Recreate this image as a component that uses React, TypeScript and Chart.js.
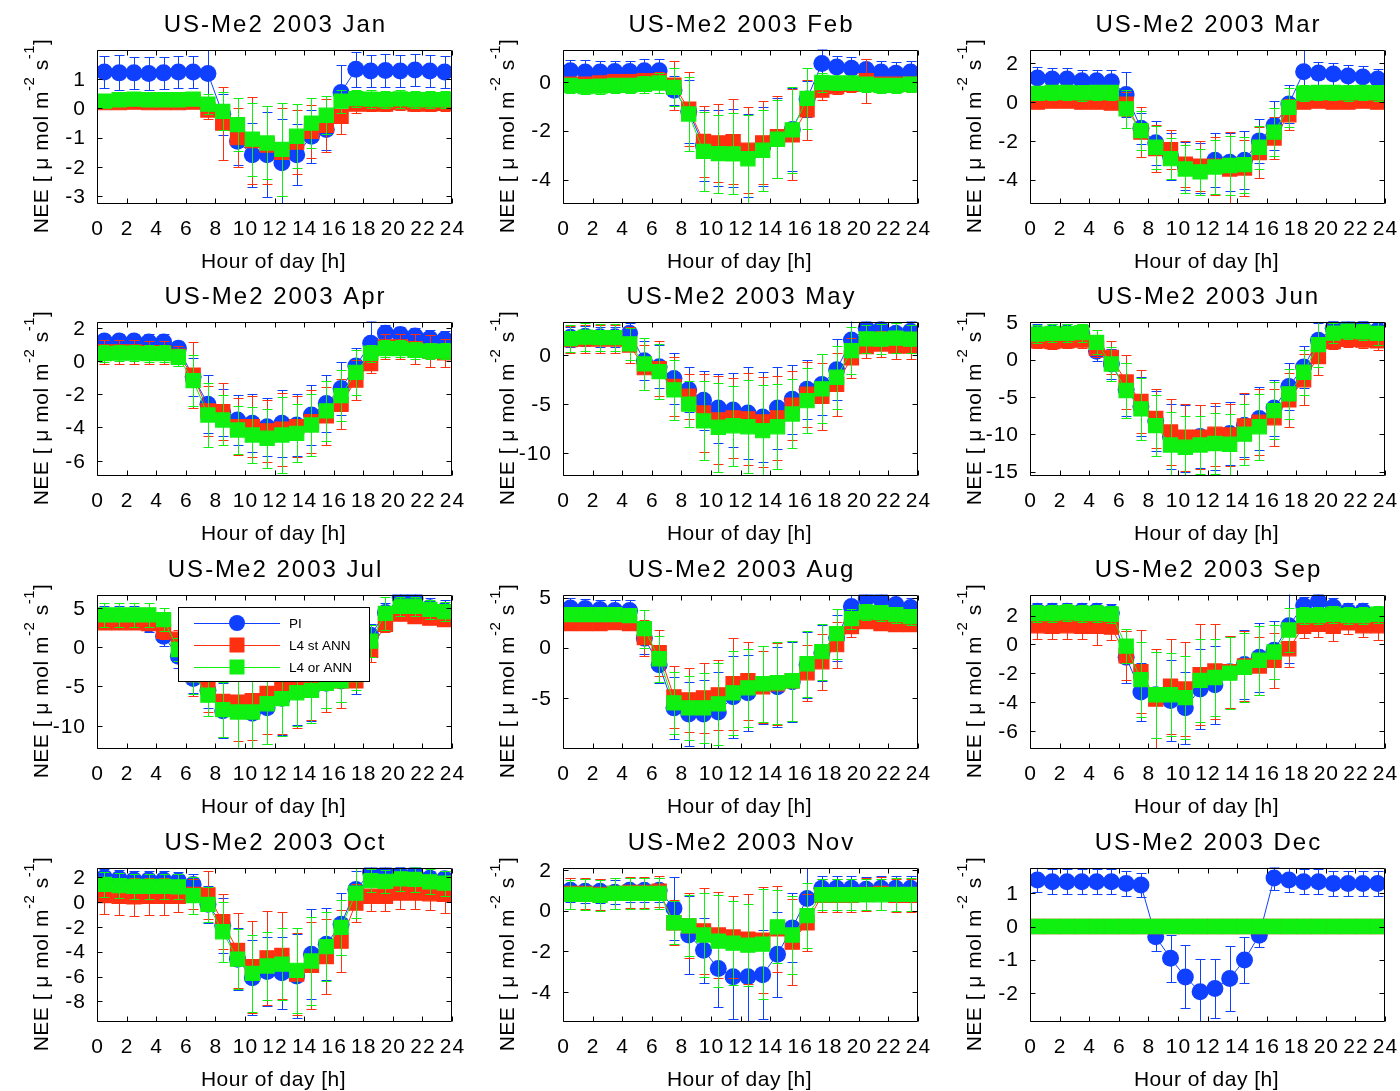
import React, { useEffect, useRef } from "react";
import { Chart, registerables } from "chart.js";

Chart.register(...registerables);

// ---------------- data ----------------
const HOURS = [0.5, 1.5, 2.5, 3.5, 4.5, 5.5, 6.5, 7.5, 8.5, 9.5, 10.5, 11.5, 12.5, 13.5, 14.5, 15.5, 16.5, 17.5, 18.5, 19.5, 20.5, 21.5, 22.5, 23.5];
const X_TICKS = [0, 2, 4, 6, 8, 10, 12, 14, 16, 18, 20, 22, 24];
const MONTHS = ["Jan", "Feb", "Mar", "Apr", "May", "Jun", "Jul", "Aug", "Sep", "Oct", "Nov", "Dec"];
const SERIES_LABELS = ["PI", "L4 st ANN", "L4 or ANN"];

const JAN_PI = [1.25, 1.22, 1.22, 1.2, 1.22, 1.25, 1.25, 1.2, -0.2, -1.12, -1.58, -1.58, -1.86, -1.58, -0.95, -0.72, 0.55, 1.34, 1.28, 1.3, 1.28, 1.32, 1.28, 1.25];
const JAN_PI_ERR = [0.55, 0.6, 0.55, 0.55, 0.55, 0.55, 0.55, 0.8, 0.7, 0.8, 1.1, 1.45, 1.5, 1.05, 0.9, 0.7, 0.95, 0.6, 0.55, 0.55, 0.55, 0.55, 0.55, 0.55];
const JAN_ST = [0.2, 0.2, 0.22, 0.2, 0.2, 0.2, 0.22, -0.05, -0.5, -1.0, -1.1, -1.25, -1.5, -1.15, -0.78, -0.58, -0.27, 0.15, 0.15, 0.15, 0.2, 0.15, 0.15, 0.18];
const JAN_ST_ERR = [0.2, 0.2, 0.2, 0.2, 0.2, 0.2, 0.2, 0.3, 1.25, 1.0, 1.5, 1.35, 1.5, 1.1, 0.9, 0.9, 0.6, 0.3, 0.25, 0.25, 0.25, 0.25, 0.25, 0.25];
const JAN_OR = [0.25, 0.3, 0.32, 0.3, 0.3, 0.3, 0.32, 0.15, -0.1, -0.55, -1.05, -1.18, -1.4, -0.95, -0.5, -0.23, 0.25, 0.34, 0.32, 0.3, 0.33, 0.3, 0.3, 0.3];
const JAN_OR_ERR = [0.2, 0.2, 0.2, 0.2, 0.2, 0.2, 0.2, 0.35, 0.65, 0.9, 1.25, 1.25, 1.6, 1.1, 0.85, 0.65, 0.4, 0.3, 0.3, 0.3, 0.3, 0.3, 0.3, 0.3];

const FEB_PI = [0.45, 0.4, 0.4, 0.42, 0.42, 0.45, 0.45, -0.35, -1.22, -2.6, -2.7, -2.7, -3.0, -2.65, -2.3, -1.95, -0.7, 0.75, 0.6, 0.55, 0.5, 0.4, 0.35, 0.4];
const FEB_PI_ERR = [0.45, 0.5, 0.45, 0.45, 0.45, 0.5, 0.5, 0.6, 1.3, 1.45, 1.55, 1.6, 1.7, 1.6, 1.65, 1.7, 0.75, 0.6, 0.45, 0.45, 0.45, 0.45, 0.45, 0.45];
const FEB_ST = [-0.1, -0.1, -0.05, 0, 0, 0.05, 0.05, -0.14, -1.12, -2.44, -2.5, -2.45, -2.8, -2.5, -2.25, -2.17, -1.15, -0.34, -0.2, -0.1, 0.05, -0.1, -0.1, -0.1];
const FEB_ST_ERR = [0.3, 0.3, 0.3, 0.3, 0.3, 0.3, 0.35, 1.0, 1.5, 1.45, 1.6, 1.75, 1.75, 1.7, 1.68, 1.86, 1.22, 0.4, 0.3, 0.3, 0.9, 0.3, 0.3, 0.3];
const FEB_OR = [-0.15, -0.2, -0.18, -0.15, -0.15, -0.1, -0.05, -0.23, -1.32, -2.85, -2.94, -2.95, -3.15, -2.8, -2.35, -1.97, -0.68, -0.03, -0.05, -0.05, -0.1, -0.15, -0.15, -0.1];
const FEB_OR_ERR = [0.3, 0.3, 0.3, 0.3, 0.3, 0.35, 0.4, 0.78, 1.5, 1.6, 1.6, 1.66, 1.8, 1.66, 1.6, 1.75, 1.25, 0.4, 0.3, 0.3, 0.3, 0.3, 0.3, 0.3];

const MAR_PI = [1.25, 1.2, 1.2, 1.1, 1.1, 1.05, 0.4, -1.35, -2.1, -2.8, -3.3, -3.4, -3.0, -3.1, -3.0, -2.0, -1.2, -0.1, 1.57, 1.5, 1.45, 1.35, 1.3, 1.2];
const MAR_PI_ERR = [0.55, 0.55, 0.55, 0.55, 0.55, 0.6, 1.15, 0.8, 1.15, 1.2, 1.25, 1.3, 1.4, 1.5, 1.5, 1.15, 1.25, 1.0, 1.1, 0.6, 0.55, 0.55, 0.55, 0.5];
const MAR_ST = [0, 0.05, 0.05, 0, 0, -0.05, -0.1, -1.55, -2.4, -2.46, -3.2, -3.3, -3.3, -3.45, -3.4, -2.6, -1.85, -0.65, 0, 0.05, 0, 0, 0.05, 0];
const MAR_ST_ERR = [0.2, 0.2, 0.2, 0.2, 0.2, 0.2, 0.6, 1.3, 1.2, 1.0, 1.2, 1.3, 1.5, 1.9, 1.45, 1.3, 1.1, 0.8, 0.2, 0.2, 0.2, 0.2, 0.2, 0.2];
const MAR_OR = [0.45, 0.5, 0.5, 0.48, 0.5, 0.5, -0.35, -1.47, -2.33, -2.92, -3.45, -3.6, -3.35, -3.27, -3.23, -2.33, -1.55, -0.27, 0.47, 0.5, 0.5, 0.48, 0.5, 0.48];
const MAR_OR_ERR = [0.35, 0.4, 0.4, 0.4, 0.4, 0.4, 1.0, 1.0, 1.1, 1.05, 1.25, 1.2, 1.4, 1.5, 1.45, 1.1, 1.25, 1.0, 0.4, 0.4, 0.4, 0.4, 0.4, 0.4];

const APR_PI = [1.2, 1.2, 1.2, 1.15, 1.15, 0.77, -0.95, -2.6, -3.1, -3.55, -3.75, -3.95, -3.75, -3.85, -3.25, -2.55, -1.65, -0.3, 1.07, 1.68, 1.6, 1.5, 1.35, 1.3];
const APR_PI_ERR = [0.45, 0.45, 0.45, 0.45, 0.45, 0.45, 1.15, 1.75, 1.4, 1.5, 1.75, 1.75, 2.0, 1.85, 1.8, 1.7, 1.6, 1.1, 1.35, 0.5, 0.45, 0.5, 0.5, 0.5];
const APR_ST = [0.55, 0.55, 0.55, 0.5, 0.5, 0.3, -0.85, -3.0, -3.05, -3.95, -3.95, -4.2, -4.1, -3.95, -3.65, -3.3, -2.6, -1.15, -0.15, 0.85, 0.85, 0.75, 0.6, 0.5];
const APR_ST_ERR = [0.7, 0.7, 0.7, 0.7, 0.7, 0.6, 2.0, 1.5, 1.7, 1.7, 1.85, 1.85, 2.2, 1.85, 1.9, 1.75, 1.5, 1.2, 0.6, 0.75, 0.75, 0.9, 0.95, 0.85];
const APR_OR = [0.45, 0.48, 0.48, 0.45, 0.45, 0.23, -1.18, -3.25, -3.55, -4.15, -4.45, -4.65, -4.45, -4.35, -3.85, -3.0, -2.08, -0.68, 0.47, 0.75, 0.75, 0.65, 0.6, 0.6];
const APR_OR_ERR = [0.5, 0.5, 0.5, 0.5, 0.5, 0.5, 1.55, 1.9, 1.5, 1.45, 1.7, 1.78, 2.3, 1.75, 1.85, 1.8, 1.55, 1.35, 0.5, 0.5, 0.5, 0.5, 0.5, 0.5];

const MAY_PI = [1.8, 1.9, 1.85, 1.85, 2.2, -0.6, -1.2, -2.4, -3.55, -4.6, -5.4, -5.6, -5.9, -6.3, -5.4, -4.5, -3.5, -3.0, -1.5, 1.5, 2.7, 2.6, 2.2, 2.4];
const MAY_PI_ERR = [1.0, 1.0, 1.0, 1.0, 1.0, 2.0, 2.2, 2.6, 2.3, 3.0, 3.5, 3.8, 4.7, 4.6, 4.2, 3.5, 3.0, 3.1, 3.1, 2.0, 1.0, 1.0, 1.0, 1.0];
const MAY_ST = [1.55, 1.6, 1.6, 1.6, 1.0, -1.3, -1.4, -3.2, -4.2, -5.9, -6.6, -6.4, -6.5, -6.8, -6.4, -5.1, -4.0, -4.2, -3.0, -0.3, 0.85, 1.1, 0.9, 0.9];
const MAY_ST_ERR = [1.4, 1.4, 1.4, 1.4, 1.8, 2.3, 2.8, 3.0, 2.3, 4.0, 4.5, 4.05, 4.7, 4.6, 4.3, 3.5, 3.3, 3.4, 3.2, 2.0, 1.2, 1.3, 1.3, 1.3];
const MAY_OR = [1.65, 1.8, 1.75, 1.75, 1.12, -0.92, -1.7, -3.55, -5.0, -6.7, -7.35, -7.2, -7.3, -7.7, -7.3, -6.0, -4.65, -3.45, -2.27, 0.44, 1.63, 1.6, 1.7, 1.6];
const MAY_OR_ERR = [1.4, 1.4, 1.4, 1.4, 1.6, 2.6, 2.8, 3.05, 2.3, 4.0, 4.5, 4.05, 4.7, 4.6, 4.3, 3.5, 3.3, 3.5, 3.2, 2.4, 1.4, 1.5, 1.5, 1.4];

const JUN_PI = [3.5, 3.6, 3.6, 3.5, 1.1, -0.6, -4.0, -6.3, -8.2, -10.3, -10.6, -10.3, -10.5, -9.9, -8.8, -7.9, -6.5, -3.6, -1.0, 2.6, 4.2, 4.5, 4.2, 3.9];
const JUN_PI_ERR = [1.2, 1.2, 1.2, 1.2, 1.3, 2.0, 3.5, 4.0, 4.0, 4.3, 4.5, 4.2, 4.3, 4.2, 4.2, 4.2, 3.8, 3.2, 2.8, 2.3, 1.0, 0.9, 1.0, 1.0];
const JUN_ST = [2.5, 2.4, 2.5, 2.6, 1.5, 0.3, -3.0, -5.6, -7.9, -9.7, -10.4, -10.4, -10.0, -10.1, -8.9, -8.4, -7.8, -5.4, -2.7, 0.4, 2.4, 2.7, 2.6, 2.5];
const JUN_ST_ERR = [1.0, 1.0, 1.0, 1.0, 1.2, 2.2, 3.6, 4.2, 4.0, 4.4, 4.5, 4.3, 4.2, 4.2, 4.4, 4.4, 3.8, 3.6, 3.4, 2.5, 1.0, 1.0, 1.0, 1.2];
const JUN_OR = [3.4, 3.5, 3.5, 3.6, 2.3, -0.6, -4.15, -6.6, -8.85, -11.45, -11.75, -11.45, -11.25, -11.35, -10.0, -9.0, -6.85, -4.6, -1.7, 2.0, 3.55, 3.8, 3.7, 3.5];
const JUN_OR_ERR = [1.2, 1.2, 1.2, 1.2, 1.6, 2.3, 3.7, 4.15, 4.1, 4.4, 4.2, 3.9, 4.1, 4.1, 4.1, 4.4, 3.8, 3.4, 3.0, 3.0, 1.3, 1.0, 1.1, 1.6];

const JUL_PI = [3.95, 3.9, 3.9, 2.9, 1.4, -1.15, -4.0, -5.5, -8.1, -8.1, -8.4, -7.7, -6.5, -5.6, -5.3, -4.6, -4.3, -3.5, 1.5, 4.4, 6.3, 6.2, 5.0, 4.7];
const JUL_PI_ERR = [1.3, 1.4, 1.4, 1.0, 1.3, 1.5, 1.8, 2.2, 3.5, 4.8, 4.6, 4.6, 4.7, 4.3, 4.1, 3.1, 2.7, 2.5, 1.5, 1.2, 1.0, 1.2, 1.3, 1.3];
const JUL_ST = [3.1, 3.1, 3.1, 3.0, 2.0, 1.0, -3.5, -5.0, -6.9, -7.0, -6.8, -5.9, -5.3, -4.5, -4.3, -4.3, -4.3, -4.3, -0.4, 2.9, 4.2, 3.9, 3.7, 3.5];
const JUL_ST_ERR = [0.8, 0.8, 0.8, 0.8, 1.0, 1.2, 2.7, 3.2, 4.5, 5.0, 5.0, 5.2, 5.7, 5.8, 5.0, 3.9, 3.4, 0.7, 1.5, 1.0, 0.8, 0.8, 0.8, 0.8];
const JUL_OR = [4.1, 4.1, 4.1, 4.1, 3.5, -0.3, -3.5, -6.1, -7.95, -8.25, -8.25, -7.2, -6.55, -5.8, -5.5, -4.6, -4.3, -3.5, 0.77, 4.3, 5.2, 5.2, 4.8, 4.5];
const JUL_OR_ERR = [1.5, 1.5, 1.5, 1.5, 1.5, 1.5, 2.5, 2.6, 3.5, 5.2, 4.7, 5.1, 4.7, 4.2, 4.1, 3.1, 2.7, 2.0, 2.0, 2.1, 1.2, 1.2, 1.2, 1.2];

const AUG_PI = [3.95, 3.9, 3.8, 3.7, 3.7, 0.95, -1.7, -6.0, -6.6, -6.6, -6.4, -4.9, -4.5, -3.7, -3.9, -3.4, -1.7, -0.5, 1.0, 4.1, 4.9, 4.8, 4.3, 4.0];
const AUG_PI_ERR = [1.0, 1.0, 1.0, 1.1, 1.1, 1.6, 1.8, 3.1, 3.2, 3.4, 4.0, 4.1, 3.8, 3.9, 4.0, 4.0, 3.3, 2.8, 2.3, 1.2, 1.0, 1.0, 1.0, 1.0];
const AUG_ST = [2.4, 2.4, 2.4, 2.5, 2.4, 1.0, -0.5, -4.9, -5.2, -5.0, -4.7, -3.6, -3.3, -3.9, -3.6, -3.3, -2.5, -1.4, 0.3, 2.1, 2.6, 2.4, 2.3, 2.3];
const AUG_ST_ERR = [0.5, 0.5, 0.5, 0.5, 0.5, 1.8, 2.3, 3.1, 3.2, 3.5, 3.5, 4.6, 3.9, 3.6, 4.1, 4.0, 2.8, 2.8, 2.3, 1.0, 0.5, 0.5, 0.5, 0.5];
const AUG_OR = [3.3, 3.3, 3.3, 3.3, 3.2, 1.9, -1.1, -5.5, -6.0, -6.0, -5.6, -4.5, -4.0, -3.6, -3.5, -3.3, -1.6, -0.4, 1.4, 2.9, 3.55, 3.5, 3.3, 3.1];
const AUG_OR_ERR = [0.6, 0.6, 0.6, 0.6, 0.6, 1.9, 2.3, 3.1, 3.2, 3.5, 4.1, 4.2, 3.9, 3.8, 4.1, 4.0, 3.3, 2.8, 2.5, 1.0, 0.8, 0.8, 0.8, 0.8];

const SEP_PI = [2.3, 2.3, 2.3, 2.3, 2.3, 2.2, -0.9, -3.3, -3.5, -3.9, -4.4, -3.1, -2.8, -1.9, -1.4, -0.9, -0.4, 1.3, 2.7, 3.0, 2.6, 2.3, 2.3, 2.0];
const SEP_PI_ERR = [0.6, 0.6, 0.6, 0.6, 0.6, 0.6, 1.8, 2.0, 3.0, 2.8, 2.5, 2.8, 2.7, 2.5, 2.4, 2.4, 2.0, 2.6, 0.6, 0.6, 0.6, 0.6, 0.6, 0.6];
const SEP_ST = [1.3, 1.25, 1.3, 1.25, 1.25, 1.2, -0.8, -1.9, -3.8, -2.9, -3.1, -2.1, -1.85, -1.9, -1.5, -1.5, -1.1, -0.3, 1.25, 1.4, 1.25, 1.5, 1.3, 1.3];
const SEP_ST_ERR = [0.9, 0.9, 0.9, 0.9, 1.3, 0.9, 1.7, 2.9, 3.5, 3.3, 3.3, 3.5, 3.3, 2.5, 2.4, 2.0, 1.9, 1.3, 0.8, 0.9, 1.0, 0.8, 0.8, 1.0];
const SEP_OR = [2.15, 2.15, 2.2, 2.15, 2.15, 2.1, -0.12, -2.45, -3.5, -3.5, -3.7, -2.5, -2.3, -2.0, -1.6, -1.1, -0.53, 1.0, 2.0, 2.0, 2.1, 2.0, 2.0, 2.1];
const SEP_OR_ERR = [0.6, 0.6, 0.6, 0.6, 0.6, 0.6, 1.2, 2.6, 3.0, 2.9, 2.9, 2.9, 2.7, 2.5, 2.4, 2.4, 1.9, 1.5, 0.6, 0.6, 0.6, 0.6, 0.6, 0.6];

const OCT_PI = [1.95, 1.85, 1.75, 1.75, 1.75, 1.7, 1.4, -0.2, -1.9, -4.6, -6.1, -5.6, -5.7, -5.95, -4.2, -3.4, -1.8, 1.0, 2.35, 2.3, 2.2, 2.3, 1.9, 1.85];
const OCT_PI_ERR = [0.7, 0.7, 0.7, 0.7, 0.7, 0.7, 0.8, 1.5, 2.2, 2.5, 3.0, 2.8, 2.9, 3.4, 3.6, 2.9, 2.5, 1.5, 0.6, 0.6, 0.6, 0.6, 0.6, 0.6];
const OCT_ST = [0.5, 0.45, 0.4, 0.45, 0.45, 0.45, 0.6, 0.55, -1.6, -3.9, -5.2, -4.5, -4.3, -5.8, -5.1, -4.4, -3.15, -0.1, 0.45, 0.45, 0.7, 0.7, 0.65, 0.6];
const OCT_ST_ERR = [1.5, 1.5, 1.5, 1.5, 1.5, 1.3, 1.2, 1.9, 2.2, 3.0, 3.7, 3.8, 3.5, 3.3, 3.5, 3.0, 2.5, 1.5, 1.2, 1.2, 1.3, 1.3, 1.3, 1.5];
const OCT_OR = [1.4, 1.3, 1.25, 1.25, 1.25, 1.2, 0.5, -0.2, -2.4, -4.6, -5.75, -5.15, -5.0, -5.5, -4.75, -3.6, -2.05, 0.7, 1.7, 1.65, 1.85, 1.8, 1.6, 1.5];
const OCT_OR_ERR = [1.0, 1.0, 1.0, 1.0, 1.0, 1.0, 1.5, 1.4, 2.4, 2.4, 3.1, 2.75, 2.9, 3.4, 3.5, 2.75, 2.2, 2.0, 0.9, 0.9, 1.0, 1.0, 1.0, 1.0];

const NOV_PI = [1.0, 0.95, 0.95, 0.9, 1.0, 1.0, 1.0, 0.12, -1.2, -1.95, -2.85, -3.25, -3.25, -3.15, -2.15, -0.85, 0.6, 1.1, 1.1, 1.1, 1.05, 1.1, 1.1, 1.1];
const NOV_PI_ERR = [0.6, 0.6, 0.6, 0.6, 0.6, 0.6, 0.6, 1.55, 1.9, 1.6, 1.9, 2.1, 2.2, 2.2, 2.1, 1.7, 1.5, 0.6, 0.6, 0.6, 0.6, 0.6, 0.6, 0.6];
const NOV_ST = [0.85, 0.85, 0.8, 0.85, 0.9, 0.9, 0.95, -0.6, -0.75, -1.0, -1.2, -1.3, -1.4, -1.45, -0.9, -1.55, -0.6, 0.75, 0.75, 0.75, 0.8, 0.85, 0.75, 0.75];
const NOV_ST_ERR = [0.75, 0.75, 0.75, 0.75, 0.75, 0.75, 0.75, 1.1, 1.6, 2.1, 2.1, 2.0, 2.2, 2.6, 2.1, 2.1, 1.4, 0.8, 0.8, 0.8, 0.8, 0.8, 0.8, 0.8];
const NOV_OR = [0.8, 0.8, 0.75, 0.85, 0.85, 0.85, 0.85, -0.6, -0.75, -1.2, -1.5, -1.6, -1.7, -1.65, -0.8, -1.2, -0.25, 0.78, 0.78, 0.78, 0.78, 0.78, 0.8, 0.8];
const NOV_OR_ERR = [0.7, 0.75, 0.75, 0.75, 0.75, 0.75, 0.75, 1.05, 1.5, 2.05, 2.25, 2.05, 2.0, 2.7, 1.8, 1.9, 1.6, 0.75, 0.75, 0.75, 0.75, 0.75, 0.8, 0.8];

const DEC_PI = [1.4, 1.35, 1.35, 1.35, 1.35, 1.35, 1.3, 1.25, -0.31, -0.96, -1.52, -1.97, -1.87, -1.57, -1.01, -0.26, 1.46, 1.4, 1.35, 1.35, 1.3, 1.3, 1.3, 1.3];
const DEC_PI_ERR = [0.37, 0.37, 0.37, 0.37, 0.37, 0.37, 0.37, 0.37, 0.42, 0.7, 0.95, 1.0, 0.9, 0.97, 0.7, 0.37, 0.35, 0.37, 0.37, 0.37, 0.37, 0.37, 0.37, 0.37];
const DEC_ST = [0, 0, 0, 0, 0, 0, 0, 0, 0, 0, 0, 0, 0, 0, 0, 0, 0, 0, 0, 0, 0, 0, 0, 0];
const DEC_ST_ERR = [0, 0, 0, 0, 0, 0, 0, 0, 0, 0, 0, 0, 0, 0, 0, 0, 0, 0, 0, 0, 0, 0, 0, 0];
const DEC_OR = [0, 0, 0, 0, 0, 0, 0, 0, 0, 0, 0, 0, 0, 0, 0, 0, 0, 0, 0, 0, 0, 0, 0, 0];
const DEC_OR_ERR = [0, 0, 0, 0, 0, 0, 0, 0, 0, 0, 0, 0, 0, 0, 0, 0, 0, 0, 0, 0, 0, 0, 0, 0];

const Y_MIN = [-3.27, -5.0, -5.26, -6.92, -12.3, -15.6, -12.96, -10.1, -7.27, -9.65, -5.48, -2.88];
const Y_MAX = [2.02, 1.32, 2.72, 2.38, 3.39, 5.1, 6.7, 5.3, 3.47, 2.76, 2.12, 1.78];

const JAN_TICKS = [-3, -2, -1, 0, 1];
const FEB_TICKS = [-4, -2, 0];
const MAR_TICKS = [-4, -2, 0, 2];
const APR_TICKS = [-6, -4, -2, 0, 2];
const MAY_TICKS = [-10, -5, 0];
const JUN_TICKS = [-15, -10, -5, 0, 5];
const JUL_TICKS = [-10, -5, 0, 5];
const AUG_TICKS = [-5, 0, 5];
const SEP_TICKS = [-6, -4, -2, 0, 2];
const OCT_TICKS = [-8, -6, -4, -2, 0, 2];
const NOV_TICKS = [-4, -2, 0, 2];
const DEC_TICKS = [-2, -1, 0, 1];

const PI_ALL = [JAN_PI, FEB_PI, MAR_PI, APR_PI, MAY_PI, JUN_PI, JUL_PI, AUG_PI, SEP_PI, OCT_PI, NOV_PI, DEC_PI];
const PI_ERR_ALL = [JAN_PI_ERR, FEB_PI_ERR, MAR_PI_ERR, APR_PI_ERR, MAY_PI_ERR, JUN_PI_ERR, JUL_PI_ERR, AUG_PI_ERR, SEP_PI_ERR, OCT_PI_ERR, NOV_PI_ERR, DEC_PI_ERR];
const ST_ALL = [JAN_ST, FEB_ST, MAR_ST, APR_ST, MAY_ST, JUN_ST, JUL_ST, AUG_ST, SEP_ST, OCT_ST, NOV_ST, DEC_ST];
const ST_ERR_ALL = [JAN_ST_ERR, FEB_ST_ERR, MAR_ST_ERR, APR_ST_ERR, MAY_ST_ERR, JUN_ST_ERR, JUL_ST_ERR, AUG_ST_ERR, SEP_ST_ERR, OCT_ST_ERR, NOV_ST_ERR, DEC_ST_ERR];
const OR_ALL = [JAN_OR, FEB_OR, MAR_OR, APR_OR, MAY_OR, JUN_OR, JUL_OR, AUG_OR, SEP_OR, OCT_OR, NOV_OR, DEC_OR];
const OR_ERR_ALL = [JAN_OR_ERR, FEB_OR_ERR, MAR_OR_ERR, APR_OR_ERR, MAY_OR_ERR, JUN_OR_ERR, JUL_OR_ERR, AUG_OR_ERR, SEP_OR_ERR, OCT_OR_ERR, NOV_OR_ERR, DEC_OR_ERR];
const TICKS_ALL = [JAN_TICKS, FEB_TICKS, MAR_TICKS, APR_TICKS, MAY_TICKS, JUN_TICKS, JUL_TICKS, AUG_TICKS, SEP_TICKS, OCT_TICKS, NOV_TICKS, DEC_TICKS];

// ---------------- style ----------------
const BLUE = "#1040ff";
const RED = "#ff3010";
const GREEN = "#10f010";
const FONT = '"Liberation Sans", Arial, Helvetica, sans-serif';
const CANVAS_W = 466;
const CANVAS_H = 272;
const COL_LEFT = [0, 466, 933];
const ROW_TOP = [0, 272, 545, 818];
const CAP = 5;
const TICK_LEN = 5;
const LEGEND_PANEL = 6;

function makeDataset(label: string, values: number[], errors: number[], color: string, style: string, radius: number, border: number, order: number) {
  return {
    label,
    data: HOURS.map((h, i) => ({ x: h, y: values[i] })),
    errors,
    borderColor: color,
    backgroundColor: color,
    borderWidth: 1,
    pointStyle: style,
    pointRadius: radius,
    pointHoverRadius: radius,
    pointBackgroundColor: color,
    pointBorderColor: color,
    pointBorderWidth: border,
    order,
    clip: 0,
    tension: 0,
    fill: false,
  };
}

function setSpacing(ctx: any, v: string) {
  try { ctx.letterSpacing = v; } catch (e) { /* ignore */ }
}

const decorPlugin = {
  id: "decor",
  beforeDatasetDraw(chart: any, args: any) {
    const ds = chart.data.datasets[args.index];
    const errs: number[] = ds.errors || [];
    const ctx = chart.ctx;
    const ca = chart.chartArea;
    const ys = chart.scales.y;
    ctx.save();
    ctx.beginPath();
    ctx.rect(ca.left, ca.top, ca.right - ca.left, ca.bottom - ca.top);
    ctx.clip();
    ctx.strokeStyle = ds.borderColor;
    ctx.lineWidth = 1;
    args.meta.data.forEach((pt: any, i: number) => {
      const e = errs[i];
      if (!e) return;
      const v = ds.data[i].y;
      const x = Math.round(pt.x) + 0.5;
      const yt = Math.round(ys.getPixelForValue(v + e)) + 0.5;
      const yb = Math.round(ys.getPixelForValue(v - e)) + 0.5;
      ctx.beginPath();
      ctx.moveTo(x, yt);
      ctx.lineTo(x, yb);
      ctx.moveTo(x - CAP, yt);
      ctx.lineTo(x + CAP, yt);
      ctx.moveTo(x - CAP, yb);
      ctx.lineTo(x + CAP, yb);
      ctx.stroke();
    });
    ctx.restore();
  },
  afterDatasetsDraw(chart: any, _args: any, opts: any) {
    const ctx = chart.ctx;
    const ca = chart.chartArea;
    const xs = chart.scales.x;
    const ys = chart.scales.y;
    const L = Math.round(ca.left) + 0.5;
    const R = Math.round(ca.right) - 0.5;
    const T = Math.round(ca.top) + 0.5;
    const B = Math.round(ca.bottom) - 0.5;
    ctx.save();
    ctx.strokeStyle = "#000";
    ctx.lineWidth = 1;
    ctx.beginPath();
    ctx.rect(L, T, R - L, B - T);
    ctx.stroke();
    ctx.beginPath();
    X_TICKS.forEach((t) => {
      const x = Math.round(xs.getPixelForValue(t)) + 0.5;
      ctx.moveTo(x, B);
      ctx.lineTo(x, B - TICK_LEN);
      ctx.moveTo(x, T);
      ctx.lineTo(x, T + TICK_LEN);
    });
    (opts.yTicks as number[]).forEach((t) => {
      const y = Math.round(ys.getPixelForValue(t)) + 0.5;
      ctx.moveTo(L, y);
      ctx.lineTo(L + TICK_LEN, y);
      ctx.moveTo(R, y);
      ctx.lineTo(R - TICK_LEN, y);
    });
    ctx.stroke();

    // tick labels
    ctx.fillStyle = "#000";
    setSpacing(ctx, "1px");
    ctx.font = `21px ${FONT}`;
    ctx.textAlign = "center";
    ctx.textBaseline = "alphabetic";
    X_TICKS.forEach((t) => {
      ctx.fillText(String(t), xs.getPixelForValue(t) + 0.5, ca.bottom + 31);
    });
    ctx.textAlign = "right";
    ctx.textBaseline = "middle";
    (opts.yTicks as number[]).forEach((t) => {
      ctx.fillText(String(t), ca.left - 11, ys.getPixelForValue(t) + 1);
    });

    // title
    setSpacing(ctx, "2px");
    ctx.font = `24px ${FONT}`;
    ctx.textAlign = "center";
    ctx.textBaseline = "alphabetic";
    const cx = (ca.left + ca.right) / 2;
    ctx.fillText(opts.title, cx + 1, 31.5);

    // x title
    setSpacing(ctx, "0.5px");
    ctx.font = `21px ${FONT}`;
    ctx.fillText("Hour of day [h]", cx - 1, ca.bottom + 64);

    // y title with superscripts
    ctx.save();
    ctx.translate(48, 136);
    ctx.rotate(-Math.PI / 2);
    const parts = [
      { t: "NEE [ \u03bc mol m", sup: false },
      { t: "-2", sup: true },
      { t: " s", sup: false },
      { t: "-1", sup: true },
      { t: "]", sup: false },
    ];
    const widths = parts.map((p) => {
      ctx.font = p.sup ? `15px ${FONT}` : `21px ${FONT}`;
      return ctx.measureText(p.t).width;
    });
    const total = widths.reduce((a, b) => a + b, 0);
    let px = -total / 2;
    ctx.textAlign = "left";
    ctx.textBaseline = "alphabetic";
    parts.forEach((p, i) => {
      ctx.font = p.sup ? `15px ${FONT}` : `21px ${FONT}`;
      ctx.fillText(p.t, px, p.sup ? -14 : 0);
      px += widths[i];
    });
    ctx.restore();

    // legend
    if (opts.legend) {
      const bx = 178.5, by = 62.5, bw = 191, bh = 74;
      ctx.fillStyle = "#fff";
      ctx.fillRect(bx, by, bw, bh);
      ctx.strokeStyle = "#000";
      ctx.lineWidth = 1;
      ctx.strokeRect(bx, by, bw, bh);
      const rows = [78, 100, 122];
      const colors = [BLUE, RED, GREEN];
      setSpacing(ctx, "0px");
      ctx.font = `13.5px ${FONT}`;
      ctx.textAlign = "left";
      ctx.textBaseline = "middle";
      rows.forEach((ry, i) => {
        ctx.strokeStyle = colors[i];
        ctx.lineWidth = 1;
        ctx.beginPath();
        ctx.moveTo(194, ry + 0.5);
        ctx.lineTo(280, ry + 0.5);
        ctx.stroke();
        ctx.fillStyle = colors[i];
        if (i === 0) {
          ctx.beginPath();
          ctx.arc(237, ry, 8, 0, Math.PI * 2);
          ctx.fill();
        } else {
          ctx.fillRect(237 - 7.5, ry - 7.5, 15, 15);
        }
        ctx.fillStyle = "#000";
        ctx.fillText(SERIES_LABELS[i], 289, ry + 1);
      });
    }
    ctx.restore();
  },
};

function Panel({ index }: { index: number }) {
  const ref = useRef<HTMLCanvasElement | null>(null);
  useEffect(() => {
    if (!ref.current) return;
    const chart = new Chart(ref.current, {
      type: "line",
      data: {
        datasets: [
          makeDataset(SERIES_LABELS[0], PI_ALL[index], PI_ERR_ALL[index], BLUE, "circle", 8.5, 0, 3),
          makeDataset(SERIES_LABELS[1], ST_ALL[index], ST_ERR_ALL[index], RED, "rect", 10, 1.2, 2),
          makeDataset(SERIES_LABELS[2], OR_ALL[index], OR_ERR_ALL[index], GREEN, "rect", 10, 1.2, 1),
        ] as any,
      },
      options: {
        responsive: false,
        animation: false,
        events: [],
        layout: { padding: { left: 97, right: CANVAS_W - 452, top: 49.5, bottom: CANVAS_H - 204 } },
        scales: {
          x: { type: "linear", min: 0, max: 24, display: false },
          y: { type: "linear", min: Y_MIN[index], max: Y_MAX[index], display: false },
        },
        plugins: {
          legend: { display: false },
          tooltip: { enabled: false },
          title: { display: false },
          decor: {
            title: `US-Me2 2003 ${MONTHS[index]}`,
            yTicks: TICKS_ALL[index],
            legend: index === LEGEND_PANEL,
          },
        } as any,
      },
      plugins: [decorPlugin as any],
    });
    return () => chart.destroy();
  }, [index]);
  const col = index % 3;
  const row = Math.floor(index / 3);
  return (
    <canvas
      ref={ref}
      width={CANVAS_W}
      height={CANVAS_H}
      style={{ position: "absolute", left: COL_LEFT[col], top: ROW_TOP[row], width: CANVAS_W, height: CANVAS_H }}
    />
  );
}

export default function App() {
  return (
    <div style={{ position: "absolute", left: 0, top: 0, width: 1400, height: 1091, background: "#fff" }}>
      {MONTHS.map((m, i) => (
        <Panel key={m} index={i} />
      ))}
    </div>
  );
}
